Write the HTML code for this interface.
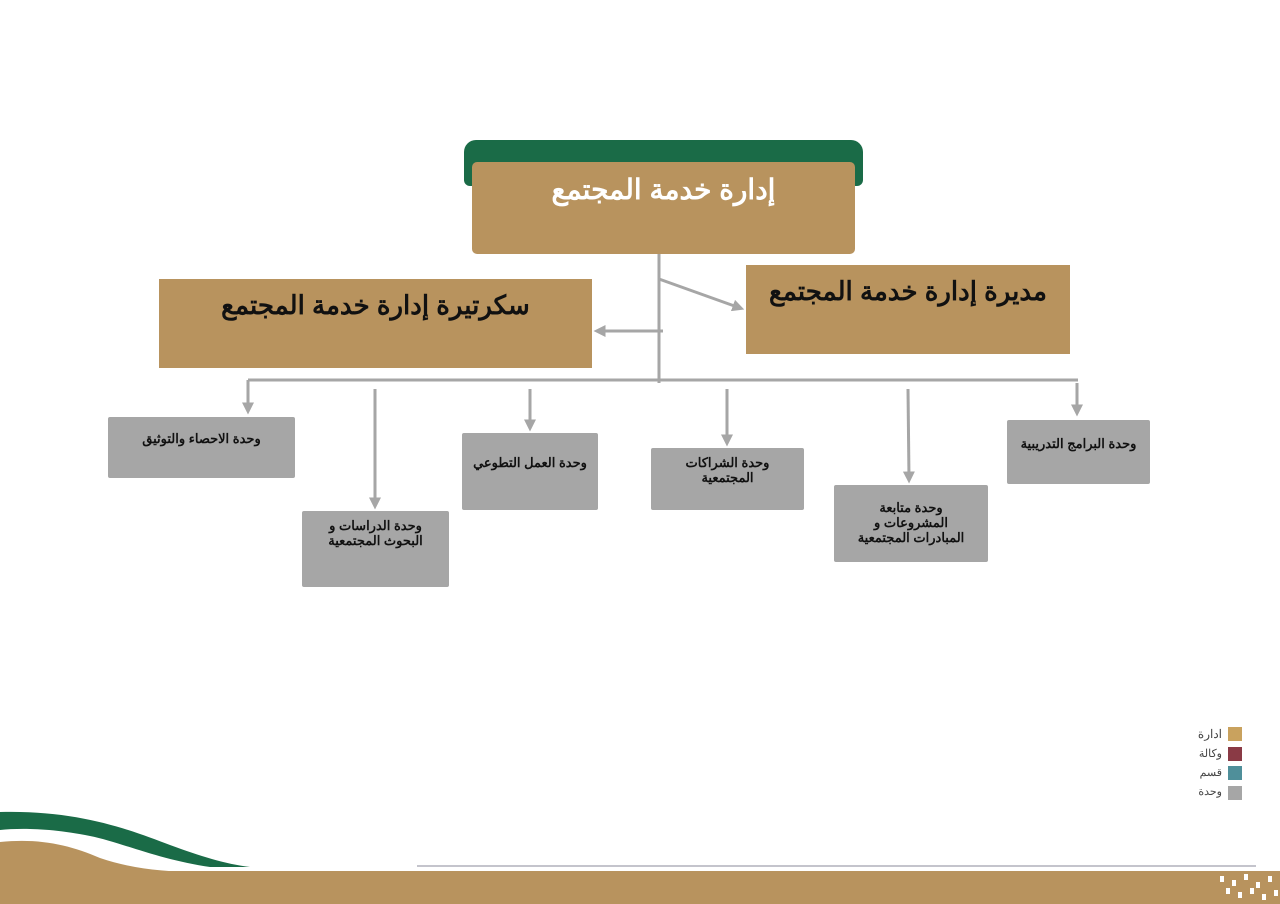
<!DOCTYPE html>
<html><head><meta charset="utf-8"><style>
body{margin:0;width:1280px;height:904px;position:relative;overflow:hidden;background:#fff;font-family:"Liberation Sans","Noto Sans CJK SC",sans-serif}
.b{position:absolute;display:flex;justify-content:center;text-align:center;box-sizing:border-box;font-weight:bold;line-height:1.15}
.t{background:#b8935e}
.g{background:#a6a6a6;color:#111;font-size:13px;border-radius:2px}
.lg{position:absolute;font-size:11px;color:#444;right:58px}
.sq{position:absolute;left:1228px;width:14px;height:14px}
</style></head><body>
<div style="position:absolute;left:464px;top:140px;width:399px;height:46px;background:#1a6b47;border-radius:12px 12px 6px 6px"></div>
<div class="b t" dir="rtl" style="left:472px;top:162px;width:383px;height:92px;border-radius:5px;color:#fff;font-size:28px;padding-top:12px">إدارة خدمة المجتمع</div>
<div class="b t" dir="rtl" style="left:159px;top:279px;width:433px;height:89px;font-size:26px;color:#111;padding-top:12px">سكرتيرة إدارة خدمة المجتمع</div>
<div class="b t" dir="rtl" style="left:746px;top:265px;width:324px;height:89px;font-size:26px;color:#111;padding-top:12px">مديرة إدارة خدمة المجتمع</div>
<div class="b g" dir="rtl" style="left:108px;top:417px;width:187px;height:61px;padding-top:15px">وحدة الاحصاء والتوثيق</div>
<div class="b g" dir="rtl" style="left:302px;top:511px;width:147px;height:76px;padding-top:8px">وحدة الدراسات و<br>البحوث المجتمعية</div>
<div class="b g" dir="rtl" style="left:462px;top:433px;width:136px;height:77px;padding-top:23px">وحدة العمل التطوعي</div>
<div class="b g" dir="rtl" style="left:651px;top:448px;width:153px;height:62px;padding-top:8px">وحدة الشراكات<br>المجتمعية</div>
<div class="b g" dir="rtl" style="left:834px;top:485px;width:154px;height:77px;padding-top:16px">وحدة متابعة<br>المشروعات و<br>المبادرات المجتمعية</div>
<div class="b g" dir="rtl" style="left:1007px;top:420px;width:143px;height:64px;padding-top:17px">وحدة البرامج التدريبية</div>
<svg width="1280" height="904" style="position:absolute;left:0;top:0">
<defs><marker id="a" markerWidth="4" markerHeight="4" refX="2.5" refY="2" orient="auto"><path d="M0,0L4,2L0,4z" fill="#a6a6a6"/></marker></defs>
<g stroke="#a6a6a6" stroke-width="3" fill="none">
<line x1="659" y1="254" x2="659" y2="383"/>
<line x1="248" y1="380" x2="1078" y2="380"/>
<line x1="663" y1="331" x2="598" y2="331" marker-end="url(#a)"/>
<line x1="659" y1="279" x2="740" y2="308" marker-end="url(#a)"/>
<line x1="248" y1="380" x2="248" y2="410" marker-end="url(#a)"/>
<line x1="375" y1="389" x2="375" y2="505" marker-end="url(#a)"/>
<line x1="530" y1="389" x2="530" y2="427" marker-end="url(#a)"/>
<line x1="727" y1="389" x2="727" y2="442" marker-end="url(#a)"/>
<line x1="908" y1="389" x2="909" y2="479" marker-end="url(#a)"/>
<line x1="1077" y1="383" x2="1077" y2="412" marker-end="url(#a)"/>
</g>
<line x1="417" y1="866" x2="1256" y2="866" stroke="#b0b0bc" stroke-width="1.5"/>
<path d="M0,812 C80,810 130,830 170,845 C200,856 225,864 250,867 L210,867 C160,860 120,842 90,836 C50,828 20,828 0,830Z" fill="#1a6b47"/>
<path d="M0,842 C40,838 70,845 100,858 C130,868 160,872 200,872 L0,872Z" fill="#b8935e"/>
<rect x="0" y="871" width="1280" height="33" fill="#b8935e"/>
<g fill="#fff">
<rect x="1220" y="876" width="4" height="6"/><rect x="1232" y="880" width="4" height="6"/><rect x="1244" y="874" width="4" height="6"/><rect x="1256" y="882" width="4" height="6"/><rect x="1268" y="876" width="4" height="6"/>
<rect x="1226" y="888" width="4" height="6"/><rect x="1238" y="892" width="4" height="6"/><rect x="1250" y="888" width="4" height="6"/><rect x="1262" y="894" width="4" height="6"/><rect x="1274" y="890" width="4" height="6"/>
</g>
</svg>
<div class="sq" style="top:727px;background:#c9a25e"></div><div class="lg" dir="rtl" style="top:727px;font-size:12px">ادارة</div>
<div class="sq" style="top:747px;background:#8a3a45"></div><div class="lg" dir="rtl" style="top:747px">وكالة</div>
<div class="sq" style="top:766px;background:#4f8f9a"></div><div class="lg" dir="rtl" style="top:766px">قسم</div>
<div class="sq" style="top:786px;background:#a6a6a6"></div><div class="lg" dir="rtl" style="top:785px">وحدة</div>
</body></html>
